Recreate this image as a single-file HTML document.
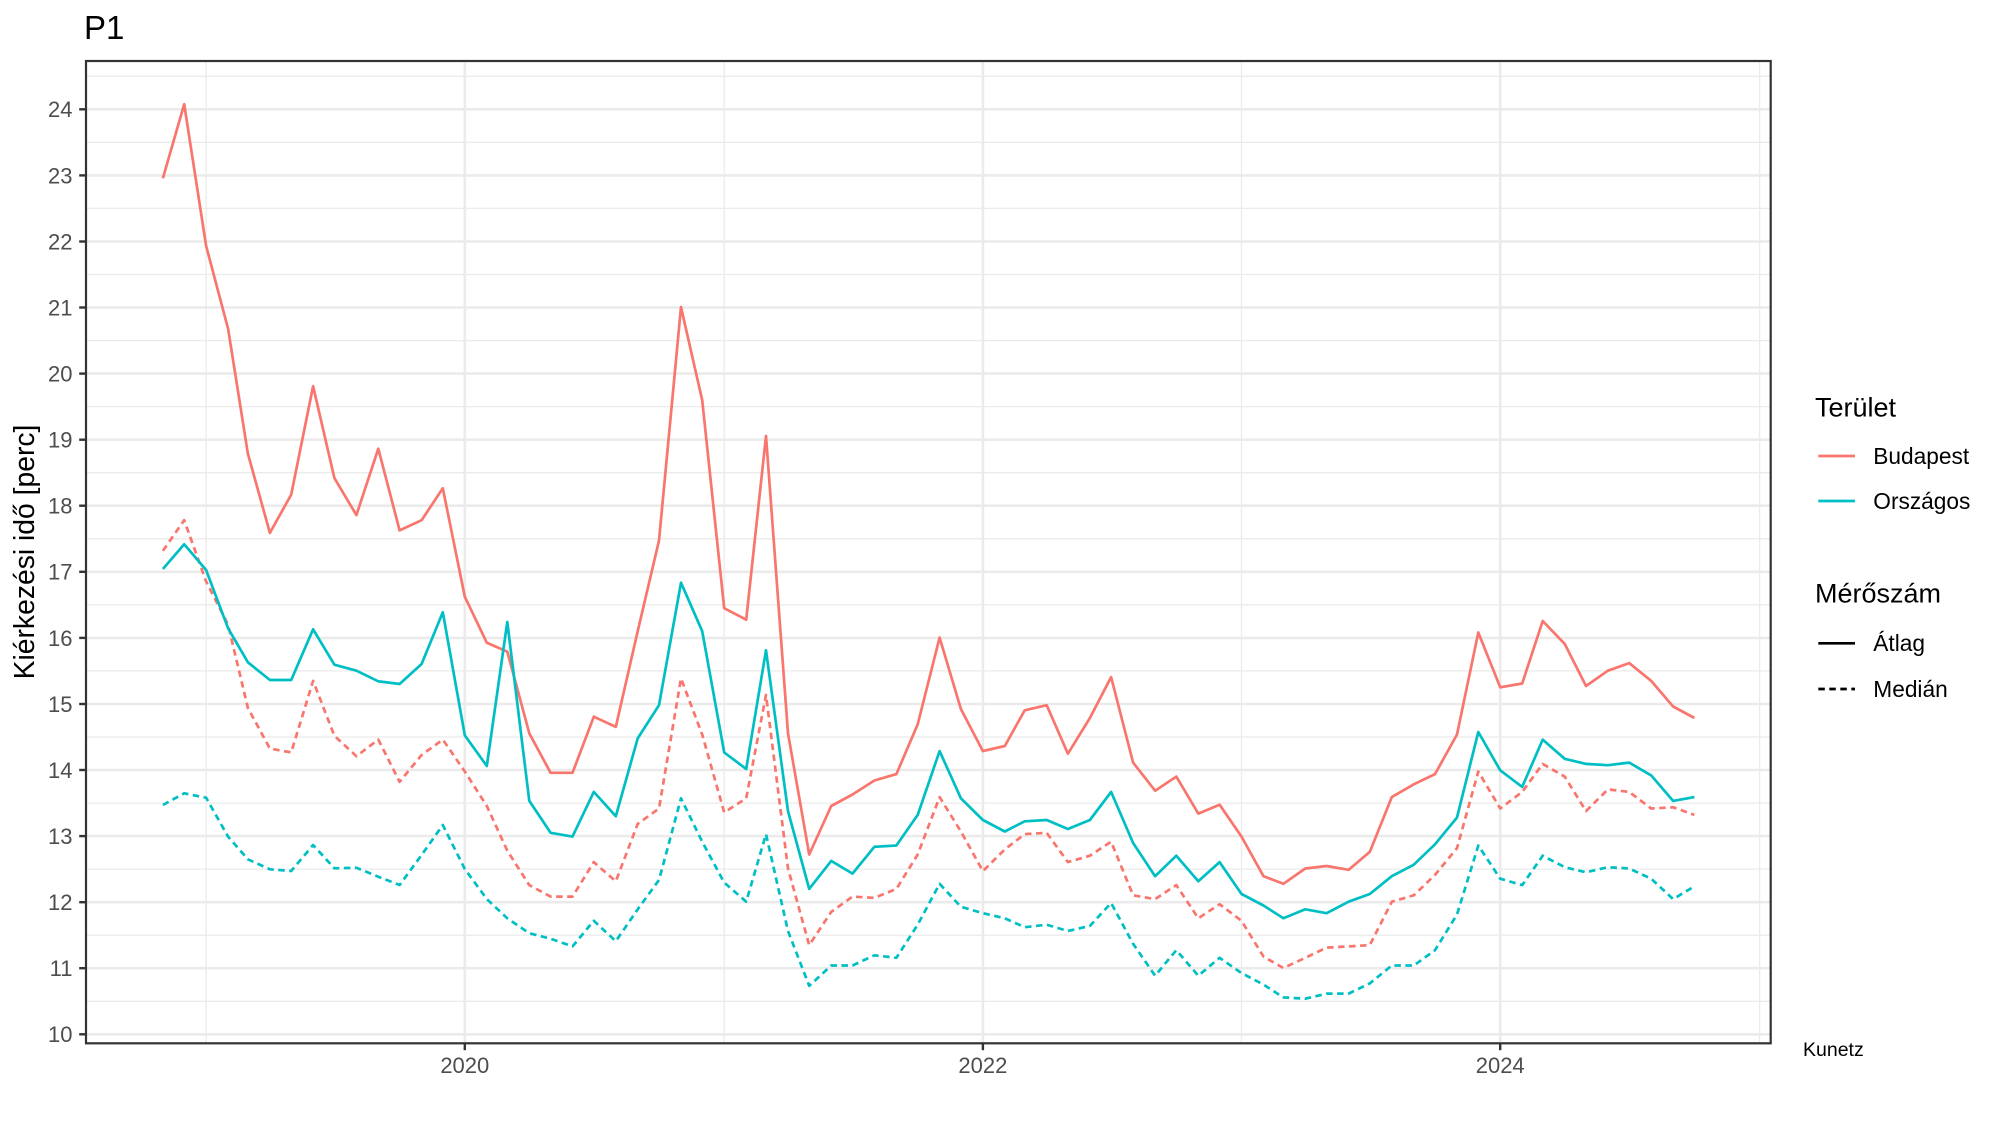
<!DOCTYPE html>
<html>
<head>
<meta charset="utf-8">
<style>
  html, body { margin: 0; padding: 0; background: #ffffff; }
  svg { display: block; }
  text { font-family: "Liberation Sans", Arial, sans-serif; }
</style>
</head>
<body>
<svg width="2000" height="1125" viewBox="0 0 2000 1125" xmlns="http://www.w3.org/2000/svg">
  <rect x="0" y="0" width="2000" height="1125" fill="#ffffff"/>

  <!-- minor horizontal gridlines -->
  <g stroke="#EBEBEB" stroke-width="1.3" fill="none">
    <line x1="86" x2="1770.7" y1="1001.3" y2="1001.3"/>
    <line x1="86" x2="1770.7" y1="935.2" y2="935.2"/>
    <line x1="86" x2="1770.7" y1="869.1" y2="869.1"/>
    <line x1="86" x2="1770.7" y1="803.1" y2="803.1"/>
    <line x1="86" x2="1770.7" y1="737.0" y2="737.0"/>
    <line x1="86" x2="1770.7" y1="670.9" y2="670.9"/>
    <line x1="86" x2="1770.7" y1="604.8" y2="604.8"/>
    <line x1="86" x2="1770.7" y1="538.8" y2="538.8"/>
    <line x1="86" x2="1770.7" y1="472.7" y2="472.7"/>
    <line x1="86" x2="1770.7" y1="406.6" y2="406.6"/>
    <line x1="86" x2="1770.7" y1="340.6" y2="340.6"/>
    <line x1="86" x2="1770.7" y1="274.5" y2="274.5"/>
    <line x1="86" x2="1770.7" y1="208.4" y2="208.4"/>
    <line x1="86" x2="1770.7" y1="142.3" y2="142.3"/>
    <line x1="86" x2="1770.7" y1="76.3" y2="76.3"/>
    <!-- minor vertical -->
    <line y1="61" y2="1043.3" x1="206.1" x2="206.1"/>
    <line y1="61" y2="1043.3" x1="724.2" x2="724.2"/>
    <line y1="61" y2="1043.3" x1="1241.5" x2="1241.5"/>
    <line y1="61" y2="1043.3" x1="1759.6" x2="1759.6"/>
  </g>
  <!-- major gridlines -->
  <g stroke="#EBEBEB" stroke-width="2.6" fill="none">
    <line x1="86" x2="1770.7" y1="1034.3" y2="1034.3"/>
    <line x1="86" x2="1770.7" y1="968.2" y2="968.2"/>
    <line x1="86" x2="1770.7" y1="902.2" y2="902.2"/>
    <line x1="86" x2="1770.7" y1="836.1" y2="836.1"/>
    <line x1="86" x2="1770.7" y1="770.0" y2="770.0"/>
    <line x1="86" x2="1770.7" y1="704.0" y2="704.0"/>
    <line x1="86" x2="1770.7" y1="637.9" y2="637.9"/>
    <line x1="86" x2="1770.7" y1="571.8" y2="571.8"/>
    <line x1="86" x2="1770.7" y1="505.7" y2="505.7"/>
    <line x1="86" x2="1770.7" y1="439.7" y2="439.7"/>
    <line x1="86" x2="1770.7" y1="373.6" y2="373.6"/>
    <line x1="86" x2="1770.7" y1="307.5" y2="307.5"/>
    <line x1="86" x2="1770.7" y1="241.5" y2="241.5"/>
    <line x1="86" x2="1770.7" y1="175.4" y2="175.4"/>
    <line x1="86" x2="1770.7" y1="109.3" y2="109.3"/>
    <line y1="61" y2="1043.3" x1="464.8" x2="464.8"/>
    <line y1="61" y2="1043.3" x1="982.9" x2="982.9"/>
    <line y1="61" y2="1043.3" x1="1500.2" x2="1500.2"/>
  </g>

  <!-- data series -->
  <g fill="none" stroke-width="2.7" stroke-linejoin="round" stroke-linecap="butt">
    <!-- Budapest mean -->
    <polyline stroke="#F8766D" points="162.9,178.2 184.2,104.2 206.1,245.8 228.1,328.8 247.9,453.8 269.9,532.9 291.2,494.6 313.1,386.2 334.4,478.1 356.4,515.1 378.3,448.7 399.6,530.4 421.6,520.2 442.8,488.3 464.8,596.7 486.8,642.7 507.3,651.6 529.3,733.3 550.6,772.8 572.5,772.8 593.8,716.7 615.8,726.9 637.7,631.2 659.0,540.6 681.0,307.1 702.2,400.2 724.2,608.2 746.2,619.7 766.0,436.0 788.0,733.3 809.2,854.5 831.2,806.0 852.5,794.5 874.4,780.5 896.4,774.1 917.7,724.3 939.6,637.6 960.9,709.0 982.9,751.1 1004.8,746.0 1024.7,710.3 1046.7,705.2 1067.9,753.7 1089.9,718.0 1111.1,677.1 1133.1,762.6 1155.1,790.7 1176.3,776.6 1198.3,813.6 1219.6,804.7 1241.5,836.6 1263.5,876.2 1283.4,883.8 1305.3,868.5 1326.6,866.0 1348.6,869.8 1369.8,851.9 1391.8,797.1 1413.8,784.3 1435.0,774.1 1457.0,734.5 1478.3,632.5 1500.2,687.3 1522.2,683.5 1542.7,621.0 1564.7,643.9 1586.0,686.0 1607.9,670.7 1629.2,663.1 1651.2,680.9 1673.1,706.5 1694.4,718.0"/>
    <!-- Budapest median -->
    <polyline stroke="#F8766D" stroke-dasharray="6.5 4.5" points="162.9,550.8 184.2,520.2 206.1,581.4 228.1,624.8 247.9,708.0 269.9,748.6 291.2,752.4 313.1,680.9 334.4,735.8 356.4,756.2 378.3,739.6 399.6,781.8 421.6,755.0 442.8,739.6 464.8,771.5 486.8,806.0 507.3,850.7 529.3,885.1 550.6,896.6 572.5,896.6 593.8,862.1 615.8,881.3 637.7,823.9 659.0,808.5 681.0,678.4 702.2,734.5 724.2,812.4 746.2,798.3 766.0,695.0 788.0,868.5 809.2,945.1 831.2,911.9 852.5,896.6 874.4,897.9 896.4,888.9 917.7,854.5 939.6,797.1 960.9,831.5 982.9,871.1 1004.8,849.4 1024.7,834.1 1046.7,832.8 1067.9,862.1 1089.9,855.7 1111.1,841.7 1133.1,895.3 1155.1,899.1 1176.3,885.1 1198.3,918.3 1219.6,904.2 1241.5,920.8 1263.5,956.6 1283.4,968.0 1305.3,957.8 1326.6,947.6 1348.6,946.4 1369.8,945.1 1391.8,901.7 1413.8,895.3 1435.0,874.9 1457.0,848.1 1478.3,771.5 1500.2,808.5 1522.2,791.9 1542.7,763.9 1564.7,776.6 1586.0,811.1 1607.9,789.4 1629.2,791.9 1651.2,808.5 1673.1,807.3 1694.4,814.9"/>
    <!-- Orszagos mean -->
    <polyline stroke="#00BFC4" points="162.9,569.0 184.2,544.3 206.1,570.0 228.1,628.3 247.9,662.3 269.9,680.0 291.2,680.0 313.1,629.3 334.4,664.7 356.4,670.7 378.3,681.3 399.6,684.0 421.6,664.0 442.8,612.3 464.8,735.3 486.8,766.0 507.3,622.0 529.3,800.9 550.6,832.8 572.5,836.6 593.8,791.9 615.8,816.2 637.7,738.4 659.0,705.2 681.0,582.7 702.2,631.2 724.2,752.4 746.2,769.0 766.0,650.3 788.0,811.1 809.2,888.9 831.2,860.9 852.5,873.6 874.4,846.8 896.4,845.5 917.7,814.9 939.6,751.1 960.9,798.3 982.9,820.0 1004.8,831.5 1024.7,821.3 1046.7,820.0 1067.9,829.0 1089.9,820.0 1111.1,791.9 1133.1,843.0 1155.1,876.2 1176.3,855.7 1198.3,881.3 1219.6,862.1 1241.5,894.0 1263.5,905.5 1283.4,918.3 1305.3,909.3 1326.6,913.2 1348.6,901.7 1369.8,894.0 1391.8,876.2 1413.8,864.7 1435.0,844.3 1457.0,817.5 1478.3,732.0 1500.2,770.3 1522.2,786.9 1542.7,739.6 1564.7,758.8 1586.0,763.9 1607.9,765.2 1629.2,762.6 1651.2,775.4 1673.1,800.9 1694.4,797.1"/>
    <!-- Orszagos median -->
    <polyline stroke="#00BFC4" stroke-dasharray="6.5 4.5" points="162.9,805.0 184.2,793.3 206.1,797.7 228.1,836.7 247.9,859.3 269.9,869.3 291.2,871.0 313.1,845.0 334.4,868.3 356.4,867.7 378.3,876.7 399.6,885.0 421.6,855.0 442.8,825.0 464.8,869.0 486.8,899.1 507.3,918.3 529.3,933.2 550.6,938.7 572.5,946.4 593.8,920.8 615.8,941.2 637.7,909.3 659.0,880.0 681.0,798.3 702.2,841.7 724.2,882.6 746.2,901.7 766.0,834.1 788.0,931.0 809.2,985.9 831.2,965.5 852.5,965.5 874.4,955.3 896.4,957.8 917.7,924.7 939.6,883.8 960.9,906.8 982.9,913.2 1004.8,918.3 1024.7,927.2 1046.7,924.7 1067.9,931.0 1089.9,925.9 1111.1,903.0 1133.1,943.8 1155.1,975.7 1176.3,950.2 1198.3,975.7 1219.6,957.8 1241.5,973.1 1263.5,984.6 1283.4,997.4 1305.3,998.7 1326.6,993.6 1348.6,993.6 1369.8,983.4 1391.8,965.5 1413.8,965.5 1435.0,950.2 1457.0,914.5 1478.3,845.5 1500.2,878.7 1522.2,885.1 1542.7,855.7 1564.7,867.2 1586.0,872.3 1607.9,867.2 1629.2,868.5 1651.2,878.7 1673.1,899.1 1694.4,886.4"/>
  </g>

  <!-- panel border -->
  <rect x="86" y="61" width="1684.7" height="982.3" fill="none" stroke="#333333" stroke-width="2.2"/>

  <!-- ticks -->
  <g stroke="#333333" stroke-width="2.4">
    <line x1="79.2" x2="86" y1="1034.3" y2="1034.3"/>
    <line x1="79.2" x2="86" y1="968.2" y2="968.2"/>
    <line x1="79.2" x2="86" y1="902.2" y2="902.2"/>
    <line x1="79.2" x2="86" y1="836.1" y2="836.1"/>
    <line x1="79.2" x2="86" y1="770.0" y2="770.0"/>
    <line x1="79.2" x2="86" y1="704.0" y2="704.0"/>
    <line x1="79.2" x2="86" y1="637.9" y2="637.9"/>
    <line x1="79.2" x2="86" y1="571.8" y2="571.8"/>
    <line x1="79.2" x2="86" y1="505.7" y2="505.7"/>
    <line x1="79.2" x2="86" y1="439.7" y2="439.7"/>
    <line x1="79.2" x2="86" y1="373.6" y2="373.6"/>
    <line x1="79.2" x2="86" y1="307.5" y2="307.5"/>
    <line x1="79.2" x2="86" y1="241.5" y2="241.5"/>
    <line x1="79.2" x2="86" y1="175.4" y2="175.4"/>
    <line x1="79.2" x2="86" y1="109.3" y2="109.3"/>
    <line x1="464.8" x2="464.8" y1="1043.3" y2="1050.2"/>
    <line x1="982.9" x2="982.9" y1="1043.3" y2="1050.2"/>
    <line x1="1500.2" x2="1500.2" y1="1043.3" y2="1050.2"/>
  </g>

  <!-- y tick labels -->
  <g font-size="22" fill="#4D4D4D" text-anchor="end">
    <text x="72.5" y="1042.2">10</text>
    <text x="72.5" y="976.1">11</text>
    <text x="72.5" y="910.1">12</text>
    <text x="72.5" y="844.0">13</text>
    <text x="72.5" y="777.9">14</text>
    <text x="72.5" y="711.9">15</text>
    <text x="72.5" y="645.8">16</text>
    <text x="72.5" y="579.7">17</text>
    <text x="72.5" y="513.6">18</text>
    <text x="72.5" y="447.6">19</text>
    <text x="72.5" y="381.5">20</text>
    <text x="72.5" y="315.4">21</text>
    <text x="72.5" y="249.4">22</text>
    <text x="72.5" y="183.3">23</text>
    <text x="72.5" y="117.2">24</text>
  </g>
  <!-- x tick labels -->
  <g font-size="22" fill="#4D4D4D" text-anchor="middle">
    <text x="464.8" y="1073">2020</text>
    <text x="982.9" y="1073">2022</text>
    <text x="1500.2" y="1073">2024</text>
  </g>

  <!-- title -->
  <text x="84" y="39" font-size="33" fill="#000000">P1</text>

  <!-- y axis title -->
  <text transform="translate(34,552) rotate(-90)" text-anchor="middle" font-size="28.3" fill="#000000">Kiérkezési idő [perc]</text>

  <!-- legend -->
  <text x="1815" y="416.7" font-size="27" fill="#000000">Terület</text>
  <line x1="1818.3" x2="1855" y1="456" y2="456" stroke="#F8766D" stroke-width="2.7"/>
  <text x="1873.3" y="464" font-size="22.7" fill="#000000">Budapest</text>
  <line x1="1818.3" x2="1855" y1="501" y2="501" stroke="#00BFC4" stroke-width="2.7"/>
  <text x="1873.3" y="509" font-size="22.7" fill="#000000">Országos</text>

  <text x="1815" y="602.7" font-size="27" fill="#000000">Mérőszám</text>
  <line x1="1818.3" x2="1855" y1="643.3" y2="643.3" stroke="#000000" stroke-width="2.7"/>
  <text x="1873.3" y="651.2" font-size="22.7" fill="#000000">Átlag</text>
  <line x1="1818.3" x2="1855" y1="689" y2="689" stroke="#000000" stroke-width="2.7" stroke-dasharray="6.5 4.5"/>
  <text x="1873.3" y="697" font-size="22.7" fill="#000000">Medián</text>

  <!-- caption -->
  <text x="1803" y="1056" font-size="19.5" fill="#000000">Kunetz</text>
</svg>
</body>
</html>
